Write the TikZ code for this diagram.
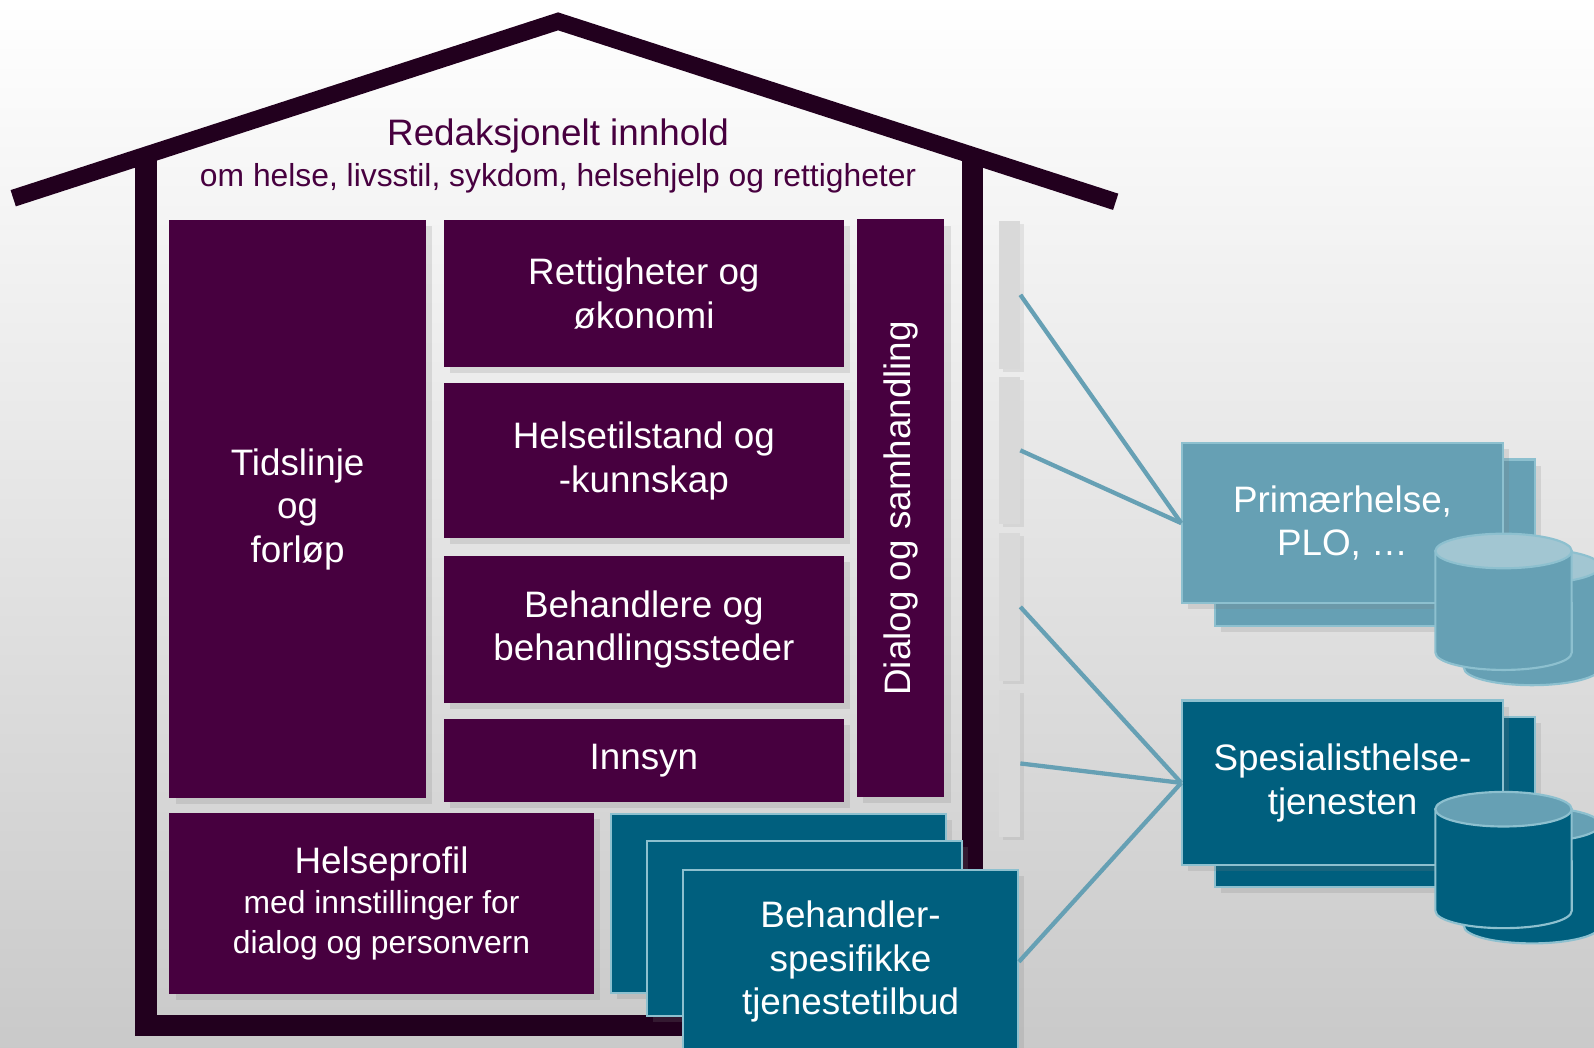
\documentclass[tikz,border=0pt]{standalone}
\usepackage{fontspec}
\setmainfont{Liberation Sans}
\usetikzlibrary{positioning, shadows}
\definecolor{houseC}{HTML}{22001E}
\definecolor{plum}{HTML}{47003F}
\definecolor{tealD}{HTML}{005F7E}
\definecolor{tealL}{HTML}{66A0B4}
\definecolor{tealLid}{HTML}{A2C6D2}
\definecolor{tealEdge}{HTML}{8DC0CF}
\definecolor{slotC}{HTML}{D9D9D9}
\tikzset{
    block/.style={
        fill=plum, text=white,
        inner sep=0pt,
        align=center,
        font=\fontsize{10.3}{12.2}\selectfont,
        drop shadow={shadow xshift=0.06cm, shadow yshift=-0.06cm, opacity=0.2}
    },
    tjeneste/.style={block, fill=tealD, draw=tealEdge, line width=0.6pt},
    small/.style={font=\fontsize{8.9}{11.1}\selectfont},
    headtxt/.style={text=plum, font=\fontsize{10.3}{12.2}\selectfont},
    slot/.style={
        fill=slotC, minimum width=0.2cm, minimum height=1.45cm, inner sep=0pt,
        drop shadow={shadow xshift=0.04cm, shadow yshift=-0.03cm, opacity=0.15}
    },
    wall/.style={draw=houseC, line width=0.21cm, line join=miter},
    roof/.style={draw=houseC, line width=0.168cm, line join=miter},
    disk/.style={draw=tealEdge, line width=0.6pt},
    link/.style={draw=tealL, line width=1.2pt}
}

\begin{document}
\begin{tikzpicture}[x=0.01cm, y=0.01cm]

    % Background
    \clip (0,0) rectangle (1568,-1030);
    \shade[top color=white, bottom color=black!21] (0,0) rectangle (1568,-1030);

    % House
    \draw[wall] (143.5,-156) -- (143.5,-1009) -- (956.5,-1009) -- (956.5,-156);
    \draw[roof] (13,-195) -- (549,-21) -- (1097.5,-198.5);

    \node[headtxt] (title) at (549,-134) {Redaksjonelt innhold};
    \node[headtxt, small] (subtitle) at (549,-175) {om helse, livsstil, sykdom, helsehjelp og rettigheter};

    % Blocks
    \node[block, minimum width=2.52cm, minimum height=5.68cm, anchor=north west] (tid) at (166,-216) {Tidslinje\\og\\forløp};
    \node[block, minimum width=3.94cm, minimum height=1.44cm, anchor=north west] (rett) at ([xshift=0.16cm]tid.north east) {Rettigheter og\\økonomi};
    \node[block, minimum width=3.94cm, minimum height=1.52cm, below=0.15cm of rett] (tilstand) {Helsetilstand og\\-kunnskap};
    \node[block, minimum width=3.94cm, minimum height=1.45cm, below=0.16cm of tilstand] (behsted) {Behandlere og\\behandlingssteder};
    \node[block, minimum width=3.94cm, minimum height=0.82cm, below=0.14cm of behsted] (innsyn) {Innsyn};
    \node[block, rotate=90, minimum width=5.68cm, minimum height=0.86cm] (dialog) at (886,-500) {Dialog og samhandling};
    \node[block, small, minimum width=4.17cm, minimum height=1.78cm, anchor=north west] (profil) at (166,-799)
        {{\fontsize{10.3}{12.2}\selectfont Helseprofil}\\med innstillinger for\\dialog og personvern};

    % Service stack
    \node[tjeneste, minimum width=3.29cm, minimum height=1.76cm, anchor=north west] (tilbud1) at (600,-800) {};
    \node[tjeneste, minimum width=3.10cm, minimum height=1.72cm, anchor=north west] (tilbud2) at (635,-826) {};
    \node[tjeneste, minimum width=3.29cm, minimum height=1.80cm, anchor=north west] (tilbud3) at (671,-855) {Behandler-\\spesifikke\\tjenestetilbud};

    % Slots
    \foreach \i/\y in {1/290, 2/443, 3/597, 4/751}
        \node[slot] (slot\i) at (993,-\y) {};

    % External systems
    \node[tjeneste, fill=tealL, minimum width=3.15cm, minimum height=1.64cm, anchor=north west] (primBack) at (1194,-451) {};
    \node[tjeneste, fill=tealL, minimum width=3.15cm, minimum height=1.57cm, anchor=north west] (prim) at (1162,-435) {Primærhelse,\\PLO, …};
    \node[tjeneste, minimum width=3.15cm, minimum height=1.67cm, anchor=north west] (spesBack) at (1194,-704) {};
    \node[tjeneste, minimum width=3.15cm, minimum height=1.62cm, anchor=north west] (spes) at (1162,-688) {Spesialisthelse-\\tjenesten};

    % Lines
    \draw[link] (slot1.east) -- (prim.west);
    \draw[link] (slot2.east) -- (prim.west);
    \draw[link] (slot3.east) -- (spes.west);
    \draw[link] (slot4.east) -- (spes.west);
    \draw[link] (tilbud3.east) -- (spes.west);

    % Databases
    \foreach \cx/\cy/\body/\lid in {1440/557/tealL/tealLid, 1412/542/tealL/tealLid, 1440/811/tealD/tealL, 1412/796/tealD/tealL} {
        \draw[disk, fill=\body] (\cx,-\cy) -- (\cx,-\cy-100) arc[start angle=180, end angle=360, x radius=0.67cm, y radius=0.17cm] -- (\cx+134,-\cy) -- cycle;
        \draw[disk, fill=\lid] (\cx+67,-\cy) ellipse[x radius=0.67cm, y radius=0.17cm];
    }

\end{tikzpicture}
\end{document}
